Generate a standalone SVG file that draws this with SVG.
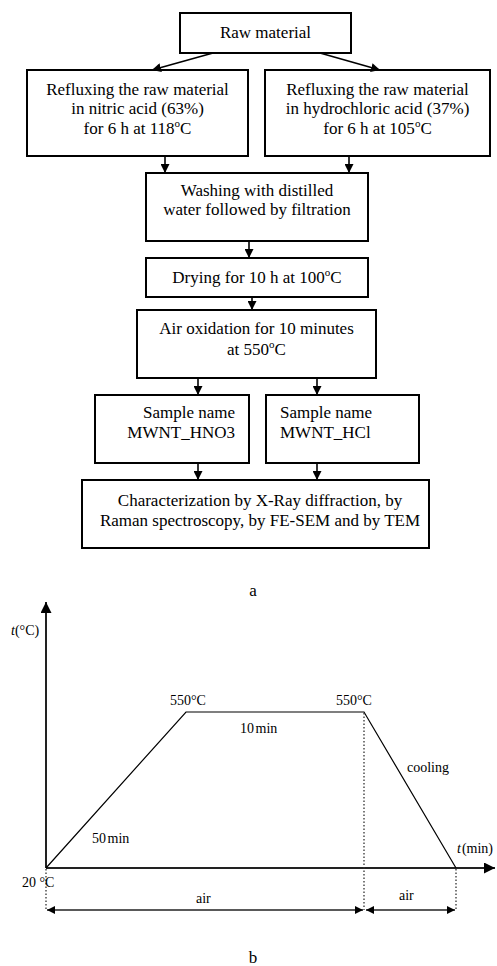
<svg xmlns="http://www.w3.org/2000/svg" width="497" height="966" viewBox="0 0 497 966">
  <style>
    .box { fill: #fff; stroke: #000; stroke-width: 2; }
    .t { font-family: "Liberation Serif", "Times New Roman", serif; font-size: 17px; fill: #000; }
    .c { text-anchor: middle; }
    .g { font-family: "Liberation Serif", "Times New Roman", serif; font-size: 14px; fill: #000; }
    .conn { stroke: #000; stroke-width: 1.6; fill: none; }
    .axis { stroke: #222; stroke-width: 2; fill: none; }
    .curve { stroke: #000; stroke-width: 1.2; fill: none; }
    .dot { stroke: #333; stroke-width: 1.3; stroke-dasharray: 1.5 2; fill: none; }
    .dim { stroke: #222; stroke-width: 1.6; fill: none; }
  </style>
  <defs>
    <marker id="ah" viewBox="0 0 10 10" refX="10" refY="5" markerWidth="9" markerHeight="9" markerUnits="userSpaceOnUse" orient="auto">
      <path d="M0,0 L10,5 L0,10 z" fill="#000"/>
    </marker>
    <marker id="axh" viewBox="0 0 10 10" refX="10" refY="5" markerWidth="12" markerHeight="11" markerUnits="userSpaceOnUse" orient="auto">
      <path d="M0,0 L10,5 L0,10 z" fill="#000"/>
    </marker>
    <marker id="dh" viewBox="0 0 10 10" refX="10" refY="5" markerWidth="8" markerHeight="8" markerUnits="userSpaceOnUse" orient="auto-start-reverse">
      <path d="M0,0 L10,5 L0,10 z" fill="#000"/>
    </marker>
  </defs>

  <!-- flowchart (a) -->
  <g id="raw">
    <rect class="box" x="180" y="13" width="171" height="40"/>
    <text class="t c" x="265.5" y="38">Raw material</text>
  </g>
  <g id="hno3-reflux">
    <rect class="box" x="27" y="70" width="221" height="86"/>
    <text class="t c" x="137.5" y="95">Refluxing the raw material</text>
    <text class="t c" x="137.5" y="114">in nitric acid (63%)</text>
    <text class="t c" x="137.5" y="134">for 6 h at 118<tspan dy="-7" font-size="11">o</tspan><tspan dy="7">C</tspan></text>
  </g>
  <g id="hcl-reflux">
    <rect class="box" x="265" y="70" width="225" height="86"/>
    <text class="t c" x="377.5" y="95">Refluxing the raw material</text>
    <text class="t c" x="377.5" y="114">in hydrochloric acid (37%)</text>
    <text class="t c" x="377.5" y="134">for 6 h at 105<tspan dy="-7" font-size="11">o</tspan><tspan dy="7">C</tspan></text>
  </g>
  <g id="washing">
    <rect class="box" x="146" y="173" width="222" height="68"/>
    <text class="t c" x="257" y="196">Washing with distilled</text>
    <text class="t c" x="257" y="215">water followed by filtration</text>
  </g>
  <g id="drying">
    <rect class="box" x="146" y="258" width="222" height="39"/>
    <text class="t c" x="257" y="283">Drying for 10 h at 100<tspan dy="-7" font-size="11">o</tspan><tspan dy="7">C</tspan></text>
  </g>
  <g id="oxidation">
    <rect class="box" x="137" y="310" width="239" height="68"/>
    <text class="t c" x="256.5" y="334">Air oxidation for 10 minutes</text>
    <text class="t c" x="256.5" y="355">at 550<tspan dy="-7" font-size="11">o</tspan><tspan dy="7">C</tspan></text>
  </g>
  <g id="sample-hno3">
    <rect class="box" x="95" y="395" width="154" height="68"/>
    <text class="t" x="235" y="418" text-anchor="end">Sample name</text>
    <text class="t" x="235" y="438" text-anchor="end">MWNT_HNO3</text>
  </g>
  <g id="sample-hcl">
    <rect class="box" x="266" y="395" width="153" height="68"/>
    <text class="t" x="280" y="418">Sample name</text>
    <text class="t" x="280" y="438">MWNT_HCl</text>
  </g>
  <g id="characterization">
    <rect class="box" x="82" y="480" width="347" height="68"/>
    <text class="t c" x="260" y="506">Characterization by X-Ray diffraction, by</text>
    <text class="t c" x="260" y="526">Raman spectroscopy, by FE-SEM and by TEM</text>
  </g>

  <g id="connectors">
    <line class="conn" x1="213" y1="53" x2="152" y2="70" marker-end="url(#ah)"/>
    <line class="conn" x1="320" y1="53" x2="380" y2="70" marker-end="url(#ah)"/>
    <line class="conn" x1="165" y1="156" x2="165" y2="173" marker-end="url(#ah)"/>
    <line class="conn" x1="349" y1="156" x2="349" y2="173" marker-end="url(#ah)"/>
    <line class="conn" x1="249" y1="241" x2="249" y2="258" marker-end="url(#ah)"/>
    <line class="conn" x1="252" y1="297" x2="252" y2="310" marker-end="url(#ah)"/>
    <line class="conn" x1="198" y1="378" x2="198" y2="395" marker-end="url(#ah)"/>
    <line class="conn" x1="317" y1="378" x2="317" y2="395" marker-end="url(#ah)"/>
    <line class="conn" x1="198" y1="463" x2="198" y2="480" marker-end="url(#ah)"/>
    <line class="conn" x1="317" y1="463" x2="317" y2="480" marker-end="url(#ah)"/>
  </g>

  <text class="t c" x="253" y="596" font-size="20">a</text>

  <!-- temperature programme (b) -->
  <g id="temperature-chart">
    <line class="axis" x1="46" y1="868" x2="46" y2="602" marker-end="url(#axh)"/>
    <line class="axis" x1="46" y1="868" x2="495" y2="868" marker-end="url(#axh)"/>
    <polyline class="curve" points="46,868 186,712 364,712 456,868"/>
    <line class="dot" x1="364" y1="713" x2="364" y2="910"/>
    <line class="dot" x1="46" y1="869" x2="46" y2="910"/>
    <line class="dot" x1="456" y1="869" x2="456" y2="910"/>
    <line class="dim" x1="47" y1="910" x2="363" y2="910" marker-start="url(#dh)" marker-end="url(#dh)"/>
    <line class="dim" x1="366" y1="910" x2="455" y2="910" marker-start="url(#dh)" marker-end="url(#dh)"/>

    <text class="g" x="11" y="635"><tspan font-style="italic">t</tspan>(°C)</text>
    <text class="g" x="170" y="705">550°C</text>
    <text class="g" x="336" y="705">550°C</text>
    <text class="g" x="240" y="733">10<tspan dx="1.5">min</tspan></text>
    <text class="g" x="407" y="772" font-size="13">cooling</text>
    <text class="g" x="92" y="843">50<tspan dx="1.5">min</tspan></text>
    <text class="g" x="457" y="853"><tspan font-style="italic">t</tspan><tspan dx="1">(min)</tspan></text>
    <text class="g" x="22" y="887" font-size="10">20 °C</text>
    <text class="g" x="196" y="903">air</text>
    <text class="g" x="399" y="900">air</text>
  </g>

  <text class="t c" x="253" y="963" font-size="20">b</text>
</svg>
